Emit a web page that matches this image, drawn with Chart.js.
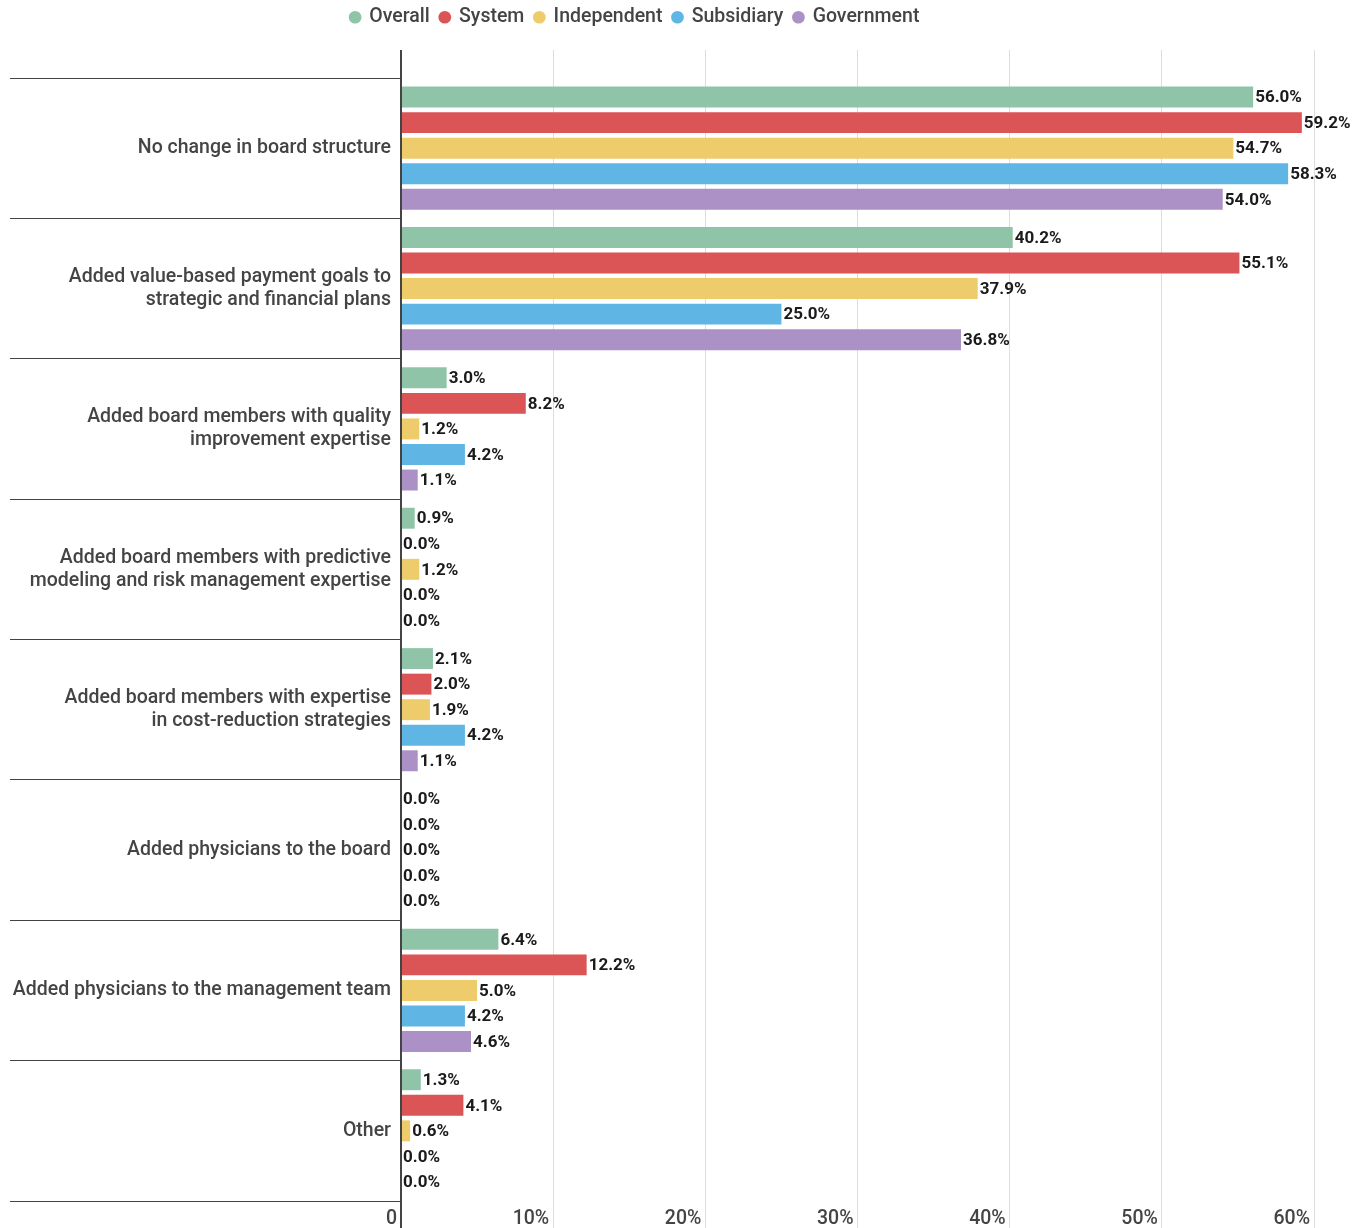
<!DOCTYPE html>
<html>
<head>
<meta charset="utf-8">
<script src="https://cdn.jsdelivr.net/npm/chart.js@4"></script>
<style>
  html, body { margin: 0; padding: 0; background: #fff; }
  #wrap { width: 1368px; height: 1228px; position: relative; }
</style>
</head>
<body>
<div id="wrap"><canvas id="board_chart"></canvas></div>
<script>
const categories = [
  'No change in board structure',
  ['Added value-based payment goals to', 'strategic and financial plans'],
  ['Added board members with quality', 'improvement expertise'],
  ['Added board members with predictive', 'modeling and risk management expertise'],
  ['Added board members with expertise', 'in cost-reduction strategies'],
  'Added physicians to the board',
  'Added physicians to the management team',
  'Other'
];

const overall     = [56.0, 40.2, 3.0, 0.9, 2.1, 0.0, 6.4, 1.3];
const system      = [59.2, 55.1, 8.2, 0.0, 2.0, 0.0, 12.2, 4.1];
const independent = [54.7, 37.9, 1.2, 1.2, 1.9, 0.0, 5.0, 0.6];
const subsidiary  = [58.3, 25.0, 4.2, 0.0, 4.2, 0.0, 4.2, 0.0];
const government  = [54.0, 36.8, 1.1, 0.0, 1.1, 0.0, 4.6, 0.0];

const xTicks = [0, 10, 20, 30, 40, 50, 60];

const AXIS_DARK = '#444444';
const GRID_LIGHT = '#dddddd';

// percentage text at the end of each bar
const barValueLabels = {
  id: 'barValueLabels',
  afterDatasetsDraw(chart) {
    const { ctx } = chart;
    ctx.save();
    ctx.font = 'bold 17px Roboto';
    ctx.fillStyle = '#1a1a1a';
    ctx.textAlign = 'left';
    ctx.textBaseline = 'middle';
    chart.data.datasets.forEach((ds, i) => {
      const meta = chart.getDatasetMeta(i);
      meta.data.forEach((bar, j) => {
        ctx.fillText(ds.data[j].toFixed(1) + '%', bar.x + 2, bar.y + 1);
      });
    });
    ctx.restore();
  }
};

// nudge the legend up and a little left so it sits over the whole page
const legendShift = {
  id: 'legendShift',
  afterLayout(chart) {
    const lg = chart.legend;
    if (lg) {
      lg.left -= 22;
      lg.right -= 22;
      lg.top -= 3;
      lg.bottom -= 3;
    }
  }
};

const gridColor = (c) => (c.tick && c.tick.value === 0 ? AXIS_DARK : GRID_LIGHT);
const gridWidth = (c) => (c.tick && c.tick.value === 0 ? 2 : 1);

const ctx = document.getElementById('board_chart');

new Chart(ctx, {
  type: 'bar',
  data: {
    labels: categories,
    datasets: [
      { label: 'Overall', data: overall, backgroundColor: '#8fc4a8' },
      { label: 'System', data: system, backgroundColor: '#db5456' },
      { label: 'Independent', data: independent, backgroundColor: '#eecb6b' },
      { label: 'Subsidiary', data: subsidiary, backgroundColor: '#5fb6e4' },
      { label: 'Government', data: government, backgroundColor: '#ab91c6' }
    ]
  },
  plugins: [barValueLabels, legendShift],
  options: {
    indexAxis: 'y',
    responsive: true,
    maintainAspectRatio: false,
    animation: false,
    categoryPercentage: 0.91,
    barPercentage: 0.82,
    layout: { padding: { left: 0, right: 54, top: 0, bottom: 0 } },
    plugins: {
      legend: {
        position: 'top',
        labels: {
          usePointStyle: true,
          pointStyle: 'circle',
          boxWidth: 9,
          boxHeight: 9,
          padding: 10.5,
          color: '#444',
          font: { family: 'Roboto', size: 19.5, weight: '500' }
        }
      },
      tooltip: { enabled: false }
    },
    scales: {
      x: {
        position: 'bottom',
        min: 0,
        max: 60,
        afterBuildTicks: (scale) => { scale.ticks = xTicks.map(v => ({ value: v })); },
        border: { display: false },
        grid: { color: gridColor, lineWidth: gridWidth, tickLength: 27, drawTicks: true },
        ticks: {
          align: 'end',
          labelOffset: -4,
          padding: -21,
          color: '#444',
          font: { family: 'Roboto', size: 19.5, weight: '500' },
          callback: (v) => (v === 0 ? '0' : v + '%')
        },
        afterFit: (scale) => { scale.height = 27; }
      },
      xTop: {
        position: 'top',
        axis: 'x',
        min: 0,
        max: 60,
        afterBuildTicks: (scale) => { scale.ticks = xTicks.map(v => ({ value: v })); },
        border: { display: false },
        grid: { color: gridColor, lineWidth: gridWidth, tickLength: 28, drawOnChartArea: false },
        ticks: { display: false },
        afterFit: (scale) => { scale.height = 38; }
      },
      y: {
        border: { display: true, color: AXIS_DARK, width: 2 },
        grid: {
          offset: true,
          drawOnChartArea: false,
          color: AXIS_DARK,
          lineWidth: 1,
          tickLength: 391
        },
        ticks: {
          padding: -381,
          color: '#444',
          font: { family: 'Roboto', size: 19.5, weight: '500', lineHeight: 1.18 }
        },
        afterFit: (scale) => { scale.width = 401; }
      }
    }
  }
});
</script>
</body>
</html>
